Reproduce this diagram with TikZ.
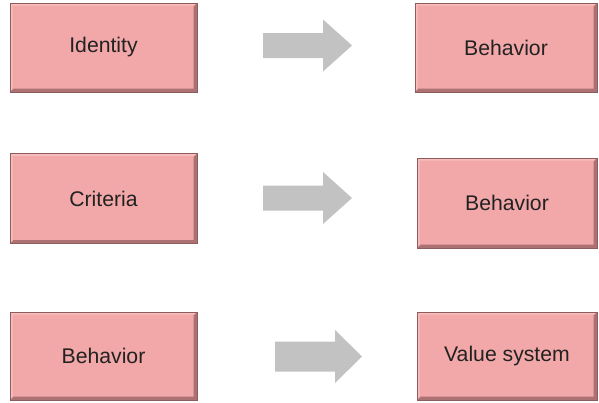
\documentclass[tikz,border=0pt]{standalone}
\usepackage{fontspec}
\setmainfont{Liberation Sans}
\begin{document}
\definecolor{boxfill}{HTML}{F2A7A8}
\definecolor{boxedge}{HTML}{8E5C5C}
\definecolor{bevdark}{HTML}{AC7273}
\definecolor{bevlight}{HTML}{F7BDBD}
\definecolor{arrowfill}{HTML}{C2C2C2}
\definecolor{textcol}{HTML}{222222}
\begin{tikzpicture}[x=1pt,y=-1pt,
  pinkbox/.style={rectangle, fill=boxfill, draw=boxedge, line width=0.8pt,
    inner sep=0pt, text=textcol, font=\fontsize{21.2}{25}\selectfont,
    path picture={
      % light bevel along top and left
      \fill[bevlight] (path picture bounding box.south west)
        -- (path picture bounding box.north west)
        -- (path picture bounding box.north east)
        -- ([xshift=-2.5pt,yshift=-2.5pt]path picture bounding box.north east)
        -- ([xshift=2.5pt,yshift=-2.5pt]path picture bounding box.north west)
        -- ([xshift=2.5pt,yshift=2.5pt]path picture bounding box.south west) -- cycle;
      % dark bevel along bottom and right
      \fill[bevdark] (path picture bounding box.south west)
        -- (path picture bounding box.south east)
        -- (path picture bounding box.north east)
        -- ([xshift=-3.5pt,yshift=-3.5pt]path picture bounding box.north east)
        -- ([xshift=-3.5pt,yshift=3.5pt]path picture bounding box.south east)
        -- ([xshift=3.5pt,yshift=3.5pt]path picture bounding box.south west) -- cycle;
    }},
  blockarrow/.style={fill=arrowfill}]
\useasboundingbox[fill=white] (0,0) rectangle (599,402);

% left column
\node[pinkbox, minimum width=187pt, minimum height=89pt] (identity) at (103.5,47.5) {Identity};
\node[pinkbox, minimum width=187pt, minimum height=90pt] (criteria) at (103.5,198.5) {Criteria};
\node[pinkbox, minimum width=187pt, minimum height=88pt] (behavior3) at (103.5,356) {Behavior};

% right column
\node[pinkbox, minimum width=182pt, minimum height=89pt] (behavior1) at (506,47.5) {Behavior};
\node[pinkbox, minimum width=180pt, minimum height=90pt] (behavior2) at (507,203) {Behavior};
\node[pinkbox, minimum width=180pt, minimum height=88pt] (values) at (507,356) {Value system};

% block arrows between the columns
\coordinate (arr1) at (263,45.5);
\coordinate (arr2) at (263,198);
\coordinate (arr3) at (275,356.5);
\fill[blockarrow] (arr1) ++(0,-12.5) -- ++(60,0) -- ++(0,-13.5) -- ++(29,26) -- ++(-29,26) -- ++(0,-13.5) -- ++(-60,0) -- cycle;
\fill[blockarrow] (arr2) ++(0,-12.5) -- ++(60,0) -- ++(0,-13.5) -- ++(29,26) -- ++(-29,26) -- ++(0,-13.5) -- ++(-60,0) -- cycle;
\fill[blockarrow] (arr3) ++(0,-15) -- ++(60,0) -- ++(0,-11.5) -- ++(27,26.5) -- ++(-27,26.5) -- ++(0,-11.5) -- ++(-60,0) -- cycle;
\end{tikzpicture}
\end{document}
